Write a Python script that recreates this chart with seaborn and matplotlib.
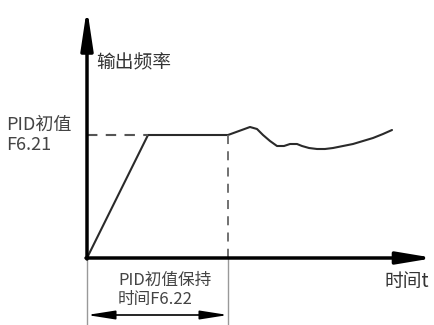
import matplotlib
matplotlib.use("Agg")
import matplotlib.pyplot as plt
import seaborn as sns
import pandas as pd

# output frequency response (time, frequency) in arbitrary units
ramp_t = [0, 61, 141]
ramp_f = [0, 123, 123]
curve_t = [141, 152, 163, 170, 176, 183, 190, 197, 203, 210, 215, 222, 230, 238, 246, 256, 266, 276, 286, 296, 305]
curve_f = [123, 127, 131, 129, 123, 117, 112, 112, 114, 114, 112, 110, 109, 109, 110, 112, 114, 117, 120, 124, 128]

pid_init = 123
hold_time = 141

labels = {
    "ylabel": "输出频率",
    "xlabel": "时间t",
    "init": "PID初值\nF6.21",
    "hold": "PID初值保持\n时间F6.22",
}

sns.set_theme(style="white")
plt.rcParams["font.family"] = ["Noto Sans CJK SC", "DejaVu Sans"]

fig = plt.figure(figsize=(4.35, 3.25), dpi=100)
ax = fig.add_axes([0, 0, 1, 1])
ax.set_xlim(-87, 348)
ax.set_ylim(-67, 258)
ax.axis("off")

df = pd.DataFrame({"t": ramp_t[:-1] + curve_t, "f": ramp_f[:-1] + curve_f})
sns.lineplot(data=df, x="t", y="f", ax=ax, color="#2a2a2a", lw=1.5,
             sort=False, estimator=None)

# dashed guides
ax.plot([0, ramp_t[1]], [pid_init, pid_init], color="#555555", lw=1.5, dashes=(5, 4))
ax.plot([hold_time, hold_time], [pid_init, 0], color="#666666", lw=1.3, dashes=(5, 4))

# thin extension lines for the hold interval
ax.plot([0, 0], [0, -67], color="#999999", lw=1)
ax.plot([hold_time, hold_time], [0, -67], color="#999999", lw=1)

# axes with arrows
ax.annotate("", xy=(0, 250), xytext=(0, -1),
            arrowprops=dict(arrowstyle="-|>,head_length=2.0,head_width=0.3",
                            lw=2.5, color="black", shrinkA=0, shrinkB=0))
ax.annotate("", xy=(347, 0), xytext=(-1, 0),
            arrowprops=dict(arrowstyle="-|>,head_length=1.8,head_width=0.3",
                            lw=2.5, color="black", shrinkA=0, shrinkB=0))

# double arrow for hold time
ax.annotate("", xy=(hold_time, -57), xytext=(0, -57),
            arrowprops=dict(arrowstyle="<|-|>,head_length=1.4,head_width=0.22",
                            lw=1.2, color="black", shrinkA=0, shrinkB=0))

ax.text(9, 195, labels["ylabel"], fontsize=13.5, color="#333333", va="center", ha="left")
ax.text(-81, 123, labels["init"], fontsize=13, color="#444444", va="center", ha="left",
        linespacing=1.1)
ax.text(31, -32, labels["hold"], fontsize=12, color="#444444", va="center", ha="left",
        linespacing=1.15)
ax.text(297, -24, labels["xlabel"], fontsize=13.5, color="#333333", va="center", ha="left")

fig.savefig("out.png", dpi=100, facecolor="white")
